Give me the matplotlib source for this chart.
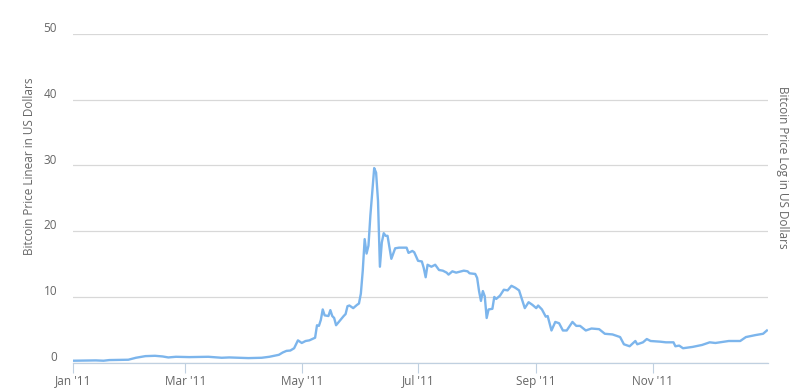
import matplotlib
matplotlib.use("Agg")
import matplotlib.pyplot as plt
import matplotlib.dates as mdates
from matplotlib.transforms import ScaledTranslation
from datetime import datetime, timedelta

dates = [
    "2011-01-01", "2011-01-13", "2011-01-17", "2011-01-20", "2011-01-30", "2011-02-03",
    "2011-02-08", "2011-02-13", "2011-02-17", "2011-02-20", "2011-02-24", "2011-03-03",
    "2011-03-13", "2011-03-20", "2011-03-24", "2011-04-03", "2011-04-10", "2011-04-14",
    "2011-04-19", "2011-04-21", "2011-04-23", "2011-04-25", "2011-04-27", "2011-04-29",
    "2011-05-01", "2011-05-03", "2011-05-05", "2011-05-08", "2011-05-09", "2011-05-10",
    "2011-05-11", "2011-05-12", "2011-05-13", "2011-05-15", "2011-05-16", "2011-05-17",
    "2011-05-18", "2011-05-19", "2011-05-21", "2011-05-23", "2011-05-24", "2011-05-25",
    "2011-05-26", "2011-05-28", "2011-05-30", "2011-05-31", "2011-06-01", "2011-06-02",
    "2011-06-03", "2011-06-04", "2011-06-05", "2011-06-06", "2011-06-08", "2011-06-09",
    "2011-06-10", "2011-06-11", "2011-06-12", "2011-06-13", "2011-06-14", "2011-06-15",
    "2011-06-17", "2011-06-19", "2011-06-21", "2011-06-25", "2011-06-26", "2011-06-28",
    "2011-06-29", "2011-07-01", "2011-07-03", "2011-07-04", "2011-07-05", "2011-07-06",
    "2011-07-08", "2011-07-10", "2011-07-12", "2011-07-14", "2011-07-16", "2011-07-17",
    "2011-07-19", "2011-07-21", "2011-07-25", "2011-07-27", "2011-07-28", "2011-07-31",
    "2011-08-01", "2011-08-02", "2011-08-03", "2011-08-04", "2011-08-05", "2011-08-06",
    "2011-08-07", "2011-08-09", "2011-08-10", "2011-08-11", "2011-08-13", "2011-08-15",
    "2011-08-17", "2011-08-19", "2011-08-21", "2011-08-23", "2011-08-26", "2011-08-28",
    "2011-08-30", "2011-09-01", "2011-09-02", "2011-09-04", "2011-09-06", "2011-09-07",
    "2011-09-09", "2011-09-11", "2011-09-13", "2011-09-15", "2011-09-17", "2011-09-20",
    "2011-09-22", "2011-09-24", "2011-09-27", "2011-09-30", "2011-10-04", "2011-10-07",
    "2011-10-11", "2011-10-15", "2011-10-17", "2011-10-20", "2011-10-23", "2011-10-24",
    "2011-10-27", "2011-10-29", "2011-10-31", "2011-11-05", "2011-11-08", "2011-11-12",
    "2011-11-13", "2011-11-15", "2011-11-17", "2011-11-22", "2011-11-27", "2011-12-01",
    "2011-12-04", "2011-12-11", "2011-12-17", "2011-12-20", "2011-12-25", "2011-12-29",
    "2011-12-31",
]
prices = [
    0.30, 0.35, 0.30, 0.40, 0.45, 0.75,
    1.00, 1.05, 0.95, 0.80, 0.90, 0.85,
    0.90, 0.75, 0.80, 0.70, 0.75, 0.90,
    1.20, 1.55, 1.80, 1.85, 2.20, 3.40,
    3.00, 3.30, 3.40, 3.80, 5.70, 5.60,
    6.50, 8.10, 7.20, 7.10, 8.00, 7.10,
    6.80, 5.70, 6.40, 7.10, 7.40, 8.60,
    8.70, 8.30, 8.80, 9.00, 10.50, 14.00,
    18.80, 16.60, 17.80, 22.40, 29.60, 28.90,
    24.60, 14.60, 18.30, 19.70, 19.30, 19.30,
    15.80, 17.40, 17.50, 17.50, 16.70, 17.00,
    16.80, 15.50, 15.40, 14.40, 13.00, 14.90,
    14.60, 14.90, 14.10, 14.00, 13.70, 13.40,
    13.90, 13.70, 14.00, 13.90, 13.60, 13.50,
    12.90, 10.90, 9.40, 10.90, 10.10, 6.80,
    8.10, 8.20, 10.00, 9.70, 10.20, 11.10,
    11.00, 11.70, 11.40, 11.00, 8.30, 9.20,
    8.80, 8.30, 8.70, 8.10, 7.00, 7.10,
    4.90, 6.20, 6.00, 4.90, 4.90, 6.20,
    5.60, 5.60, 4.90, 5.20, 5.10, 4.40,
    4.30, 3.90, 2.80, 2.50, 3.30, 2.80,
    3.10, 3.60, 3.30, 3.20, 3.10, 3.10,
    2.50, 2.60, 2.20, 2.40, 2.70, 3.10,
    3.00, 3.30, 3.30, 3.90, 4.20, 4.40,
    4.90,
]
y_ticks = [0, 10, 20, 30, 40, 50]
x_tick_dates = ["2011-01-01", "2011-03-01", "2011-05-01", "2011-07-01", "2011-09-01", "2011-11-01"]
x_tick_labels = ["Jan '11", "Mar '11", "May '11", "Jul '11", "Sep '11", "Nov '11"]

plt.rcParams['font.family'] = ['Open Sans', 'DejaVu Sans']

fig = plt.figure(figsize=(8.08, 3.92), dpi=100)
ax = fig.add_axes([73/808, 29.3/392, 695/808, 328.7/392])

xs = [datetime.strptime(d, "%Y-%m-%d") for d in dates]
ax.plot(xs, prices, color="#7cb5ec", lw=1.7, solid_joinstyle="round", zorder=3)

ax.set_xlim(datetime(2011, 1, 1), datetime(2011, 12, 31, 14))
ax.set_ylim(0, 50)

ax.set_yticks(y_ticks)
ax.set_yticklabels([str(v) for v in y_ticks])
ax.yaxis.grid(True, color="#d8d8d8", lw=0.9)
ax.tick_params(axis="y", length=0, pad=11.5, labelsize=8.5, labelcolor="#666666")
offset = ScaledTranslation(0, 5/72, fig.dpi_scale_trans)
for lab in ax.get_yticklabels():
    lab.set_transform(lab.get_transform() + offset)

ax.set_xticks([datetime.strptime(d, "%Y-%m-%d") for d in x_tick_dates])
ax.set_xticklabels(x_tick_labels)
ax.tick_params(axis="x", length=7, width=0.8, color="#c0d0e0", labelsize=8.5,
               labelcolor="#666666", pad=1.5)

for s in ["top", "right", "left"]:
    ax.spines[s].set_visible(False)
ax.spines["bottom"].set_color("#c0d0e0")
ax.spines["bottom"].set_linewidth(0.9)
ax.set_axisbelow(True)

fig.text(30/808, 1 - 166/392, "Bitcoin Price Linear in US Dollars", rotation=90,
         ha="center", va="center", fontsize=8.5, color="#666666")
fig.text(783/808, 1 - 167/392, "Bitcoin Price Log in US Dollars", rotation=270,
         ha="center", va="center", fontsize=8.5, color="#666666")

fig.savefig("out.png", dpi=100, facecolor="white")
